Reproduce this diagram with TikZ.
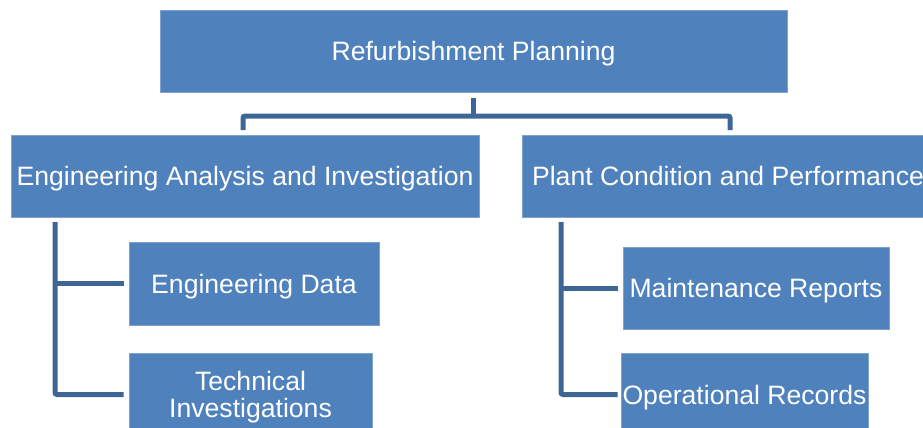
\documentclass[tikz,border=0pt]{standalone}
\usepackage{fontspec}
\setmainfont{Liberation Sans}
\usetikzlibrary{calc}
\definecolor{boxfill}{HTML}{4F81BD}
\definecolor{boxedge}{HTML}{7FA2CF}
\definecolor{linkblue}{HTML}{3D6696}
\begin{document}
\begin{tikzpicture}[x=1pt,y=-1pt,
  box/.style={rectangle, fill=boxfill, draw=boxedge, line width=0.8pt,
    text=white, inner sep=0pt, align=center, text depth=0pt,
    font=\fontsize{26.6}{27}\selectfont},
  conn/.style={draw=linkblue, line width=5pt, rounded corners=2pt}]
\useasboundingbox (0,0) rectangle (923,428);
% top level
\node[box, minimum width=627, minimum height=82] (top) at (473.5,51) {Refurbishment Planning};
% second level
\node[box, minimum width=468, minimum height=82] (eng) at (245,176) {Engineering Analysis and Investigation};
\node[box, minimum width=412, minimum height=82] (plant) at (728,176) {Plant Condition and Performance};
% leaves under engineering analysis
\node[box, minimum width=250, minimum height=83] (ed) at (254,283.5) {Engineering Data};
\node[box, minimum width=243, minimum height=83] (ti) at (250.5,394.5) {Technical\\Investigations};
% leaves under plant condition
\node[box, minimum width=266, minimum height=82] (mr) at (756,288) {Maintenance Reports};
\node[box, minimum width=247, minimum height=83] (or) at (744.5,394.5) {Operational Records};
% bus from the top box to the two branches
\coordinate (bus) at (473.5,116);
\draw[conn] ([yshift=-6pt]top.south) -- (bus);
\draw[conn] (243,130) |- (bus) -| (730,130);
% left branch
\coordinate (lstem) at (55,222);
\draw[conn] (lstem) |- ([xshift=-5pt]ti.west);
\draw[conn] (lstem |- ed.west) -- ([xshift=-5pt]ed.west);
% right branch
\coordinate (rstem) at (561,222);
\draw[conn] (rstem) |- ([xshift=-3pt]or.west);
\draw[conn] (rstem |- mr.west) -- ([xshift=-5pt]mr.west);
\end{tikzpicture}
\end{document}
